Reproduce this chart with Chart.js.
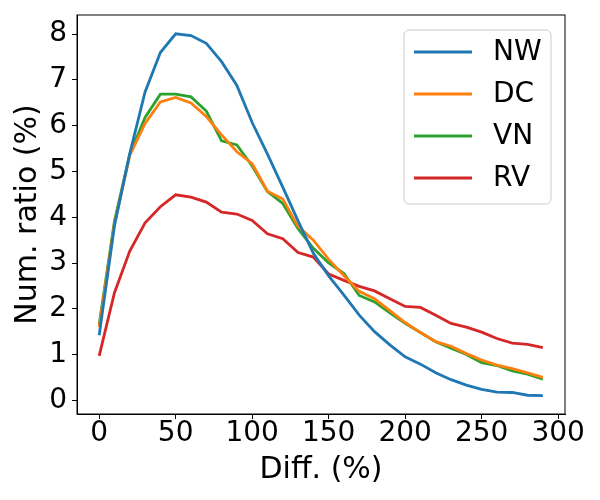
<!DOCTYPE html>
<html>
<head>
<meta charset="utf-8">
<script src="https://cdn.jsdelivr.net/npm/chart.js@4/dist/chart.umd.min.js"></script>
<style>
  html, body { margin: 0; padding: 0; background: #fff; }
  #wrap { width: 600px; height: 500px; }
</style>
</head>
<body>
<div id="wrap"><canvas id="ratioChart" width="600" height="500"></canvas></div>
<script>
// x positions (Diff. %)
var diffs = [0, 10, 20, 30, 40, 50, 60, 70, 80, 90, 100, 110, 120, 130, 140,
             150, 160, 170, 180, 190, 200, 210, 220, 230, 240, 250, 260, 270, 280, 290];

// series values (Num. ratio %)
var nw = [1.42, 3.82, 5.39, 6.74, 7.60, 8.01, 7.97, 7.80, 7.40, 6.88, 6.07, 5.38, 4.66, 3.92, 3.21,
          2.72, 2.30, 1.86, 1.50, 1.21, 0.95, 0.79, 0.60, 0.45, 0.33, 0.24, 0.18, 0.17, 0.11, 0.10];
var dc = [1.60, 3.85, 5.35, 6.05, 6.52, 6.62, 6.50, 6.20, 5.80, 5.43, 5.17, 4.57, 4.40, 3.80, 3.50,
          3.08, 2.72, 2.38, 2.22, 1.96, 1.70, 1.48, 1.28, 1.18, 1.02, 0.88, 0.77, 0.69, 0.60, 0.50];
var vn = [1.66, 3.92, 5.38, 6.18, 6.69, 6.69, 6.63, 6.32, 5.67, 5.58, 5.12, 4.56, 4.30, 3.75, 3.32,
          3.00, 2.77, 2.29, 2.15, 1.91, 1.68, 1.48, 1.28, 1.14, 1.00, 0.82, 0.76, 0.64, 0.57, 0.46];
var rv = [0.97, 2.35, 3.26, 3.88, 4.23, 4.49, 4.44, 4.33, 4.11, 4.07, 3.93, 3.64, 3.53, 3.23, 3.13,
          2.76, 2.62, 2.49, 2.39, 2.22, 2.05, 2.03, 1.86, 1.68, 1.60, 1.49, 1.35, 1.25, 1.22, 1.15];

var seriesNames = ['NW', 'DC', 'VN', 'RV'];
var seriesColors = ['#1f77b4', '#ff7f0e', '#2ca02c', '#d62728'];

// tick labels
var xTicks = [0, 50, 100, 150, 200, 250, 300];
var yTicks = [0, 1, 2, 3, 4, 5, 6, 7, 8];

var FONT = "'DejaVu Sans', sans-serif";

function toPoints(values) {
    return values.map(function (v, i) { return { x: diffs[i], y: v }; });
}

// box around the plot area (top and right sides)
var framePlugin = {
    id: 'frame',
    afterDraw: function (chart) {
        var a = chart.chartArea, ctx = chart.ctx;
        ctx.save();
        ctx.strokeStyle = '#000';
        ctx.lineWidth = 1;
        ctx.strokeRect(a.left, a.top, a.right - a.left, a.bottom - a.top);
        ctx.restore();
    }
};

// legend drawn inside the plot, upper right
var innerLegend = {
    id: 'innerLegend',
    afterDraw: function (chart) {
        var a = chart.chartArea, ctx = chart.ctx;
        var w = 147, h = 174;
        var x0 = a.right - 14 - w, y0 = a.top + 15;
        ctx.save();
        ctx.beginPath();
        ctx.roundRect(x0, y0, w, h, 5);
        ctx.fillStyle = 'rgba(255,255,255,0.8)';
        ctx.fill();
        ctx.strokeStyle = '#cccccc';
        ctx.lineWidth = 1;
        ctx.stroke();
        ctx.font = '28px ' + FONT;
        ctx.textBaseline = 'middle';
        ctx.textAlign = 'left';
        chart.data.datasets.forEach(function (ds, i) {
            var yy = y0 + 22 + i * 42;
            ctx.beginPath();
            ctx.moveTo(x0 + 10, yy);
            ctx.lineTo(x0 + 68, yy);
            ctx.strokeStyle = ds.borderColor;
            ctx.lineWidth = 2.8;
            ctx.stroke();
            ctx.fillStyle = '#000';
            ctx.fillText(ds.label, x0 + 89, yy + 1);
        });
        ctx.restore();
    }
};

var ctx = document.getElementById('ratioChart').getContext('2d');
var ratioChart = new Chart(ctx, {
    type: 'line',
    data: {
        datasets: [nw, dc, vn, rv].map(function (vals, i) {
            return {
                label: seriesNames[i],
                data: toPoints(vals),
                borderColor: seriesColors[i],
                backgroundColor: seriesColors[i],
                borderWidth: 2.8,
                pointRadius: 0,
                tension: 0,
                fill: false
            };
        })
    },
    options: {
        responsive: false,
        animation: false,
        devicePixelRatio: 1,
        layout: { padding: { top: 15, right: 35, left: 0, bottom: 0 } },
        plugins: {
            legend: { display: false },
            tooltip: { enabled: false }
        },
        scales: {
            x: {
                type: 'linear',
                min: -14.5,
                max: 304.5,
                afterBuildTicks: function (scale) {
                    scale.ticks = xTicks.map(function (v) { return { value: v }; });
                },
                afterFit: function (scale) {
                    scale.height = 86;
                    scale.paddingLeft = 0;
                    scale.paddingRight = 0;
                },
                grid: { drawOnChartArea: false, drawTicks: true, tickLength: 5, color: '#000' },
                border: { display: true, color: '#000', width: 1 },
                ticks: {
                    color: '#000',
                    font: { family: FONT, size: 28 },
                    padding: -2,
                    maxRotation: 0,
                    autoSkip: false
                },
                title: {
                    display: true,
                    text: 'Diff. (%)',
                    color: '#000',
                    font: { family: FONT, size: 30 },
                    padding: { top: 0, bottom: 12 }
                }
            },
            y: {
                type: 'linear',
                min: -0.3,
                max: 8.42,
                afterBuildTicks: function (scale) {
                    scale.ticks = yTicks.map(function (v) { return { value: v }; });
                },
                afterFit: function (scale) {
                    scale.width = 77;
                    scale.paddingTop = 0;
                    scale.paddingBottom = 0;
                },
                grid: { drawOnChartArea: false, drawTicks: true, tickLength: 5, color: '#000' },
                border: { display: true, color: '#000', width: 1 },
                ticks: {
                    color: '#000',
                    font: { family: FONT, size: 28 },
                    padding: 5,
                    autoSkip: false
                },
                title: {
                    display: true,
                    text: 'Num. ratio (%)',
                    color: '#000',
                    font: { family: FONT, size: 30 },
                    padding: { top: 10, bottom: 0 }
                }
            }
        }
    },
    plugins: [framePlugin, innerLegend]
});
</script>
</body>
</html>
